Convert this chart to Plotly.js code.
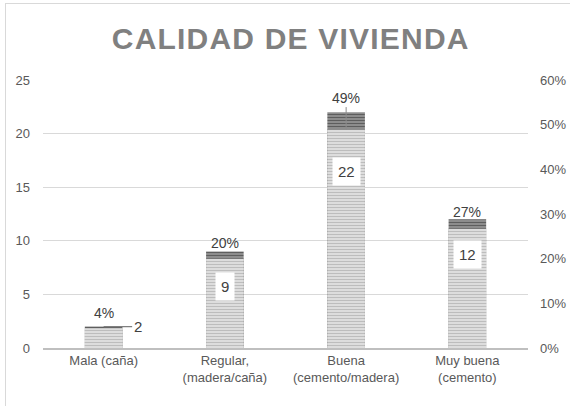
<!DOCTYPE html>
<html>
<head>
<meta charset="utf-8">
<script src="https://cdn.plot.ly/plotly-3.0.1.min.js"></script>
<style>
  html, body { margin: 0; padding: 0; background: #ffffff; }
  #wrap { position: relative; width: 570px; height: 406px; overflow: hidden; }
  #chart { width: 570px; height: 406px; }
  #frame { position: absolute; left: 5px; top: 3px; width: 620px; height: 460px;
           border: 1px solid #d9d9d9; pointer-events: none; }
  .gtitle { letter-spacing: 1.2px; }
</style>
</head>
<body>
<div id="wrap">
  <div id="chart"></div>
  <div id="frame"></div>
</div>
<script>
const categories = ["Mala (caña)", "Regular,<br>(madera/caña)", "Buena<br>(cemento/madera)", "Muy buena<br>(cemento)"];
const counts = [2, 9, 22, 12];
const shares = [0.044, 0.20, 0.489, 0.267];
const shareLabels = ["4%", "20%", "49%", "27%"];

const FONT = "Liberation Sans";

const countBars = {
  type: "bar", x: categories, y: counts, yaxis: "y", width: 0.31,
  marker: { color: "#8a8a8a",
    pattern: { shape: "-", fgcolor: "#5e5e5e", bgcolor: "#9c9c9c", size: 3, solidity: 0.5 } },
  hoverinfo: "skip", showlegend: false
};
const shareBars = {
  type: "bar", x: categories, y: shares, yaxis: "y2", width: 0.31,
  marker: { color: "#d6d6d6",
    pattern: { shape: "-", fgcolor: "#bdbdbd", bgcolor: "#e8e8e8", size: 3, solidity: 0.5 } },
  hoverinfo: "skip", showlegend: false
};

const annotations = [];
const countShift = [0, -35, -59, -35];
counts.forEach((v, i) => {
  if (i === 0) {
    annotations.push({ x: categories[i], y: v, xref: "x", yref: "y", text: String(v),
      showarrow: true, arrowhead: 0, arrowwidth: 1.2, arrowcolor: "#7f7f7f", ax: 34, ay: 0,
      font: { family: FONT, size: 15, color: "#404040" } });
  } else {
    annotations.push({ x: categories[i], y: v, xref: "x", yref: "y", yshift: countShift[i],
      text: String(v), showarrow: false, bgcolor: "#ffffff", borderpad: 5,
      font: { family: FONT, size: 15, color: "#404040" } });
  }
});
const shareShift = [14, 9, 0, 7];
shares.forEach((v, i) => {
  if (i === 2) {
    annotations.push({ x: categories[i], y: v, xref: "x", yref: "y2", text: shareLabels[i],
      showarrow: true, arrowhead: 0, arrowwidth: 1, arrowcolor: "#8c8c8c", ax: 0, ay: -32,
      font: { family: FONT, size: 14, color: "#404040" } });
  } else {
    annotations.push({ x: categories[i], y: counts[i], xref: "x", yref: "y",
      yshift: shareShift[i], yanchor: "middle",
      text: shareLabels[i], showarrow: false,
      font: { family: FONT, size: 14, color: "#404040" } });
  }
});

const layout = {
  width: 570, height: 406,
  margin: { l: 43, r: 42, t: 80, b: 58 },
  paper_bgcolor: "#ffffff", plot_bgcolor: "#ffffff",
  barmode: "overlay",
  title: { text: "<b>CALIDAD DE VIVIENDA</b>", x: 0.51, xanchor: "center", y: 0.905, yanchor: "middle",
    font: { family: FONT, size: 30, color: "#808080" } },
  font: { family: FONT, color: "#595959" },
  xaxis: { type: "category", showgrid: false, showline: true, linecolor: "#bfbfbf", linewidth: 1.5,
    ticks: "", tickfont: { family: FONT, size: 13, color: "#595959" }, fixedrange: true },
  yaxis: { range: [0, 25], dtick: 5, showgrid: true, gridcolor: "#d9d9d9", gridwidth: 1,
    zeroline: false, showline: false, ticks: "", ticklabelstandoff: 12,
    tickfont: { family: FONT, size: 13, color: "#595959" }, fixedrange: true },
  yaxis2: { overlaying: "y", side: "right", range: [0, 0.6], dtick: 0.1, tickformat: ".0%",
    showgrid: false, zeroline: false, showline: false, ticks: "", ticklabelstandoff: 11,
    tickfont: { family: FONT, size: 13, color: "#595959" }, fixedrange: true },
  annotations: annotations
};

Plotly.newPlot("chart", [countBars, shareBars], layout, { displayModeBar: false, staticPlot: true });
</script>
</body>
</html>
